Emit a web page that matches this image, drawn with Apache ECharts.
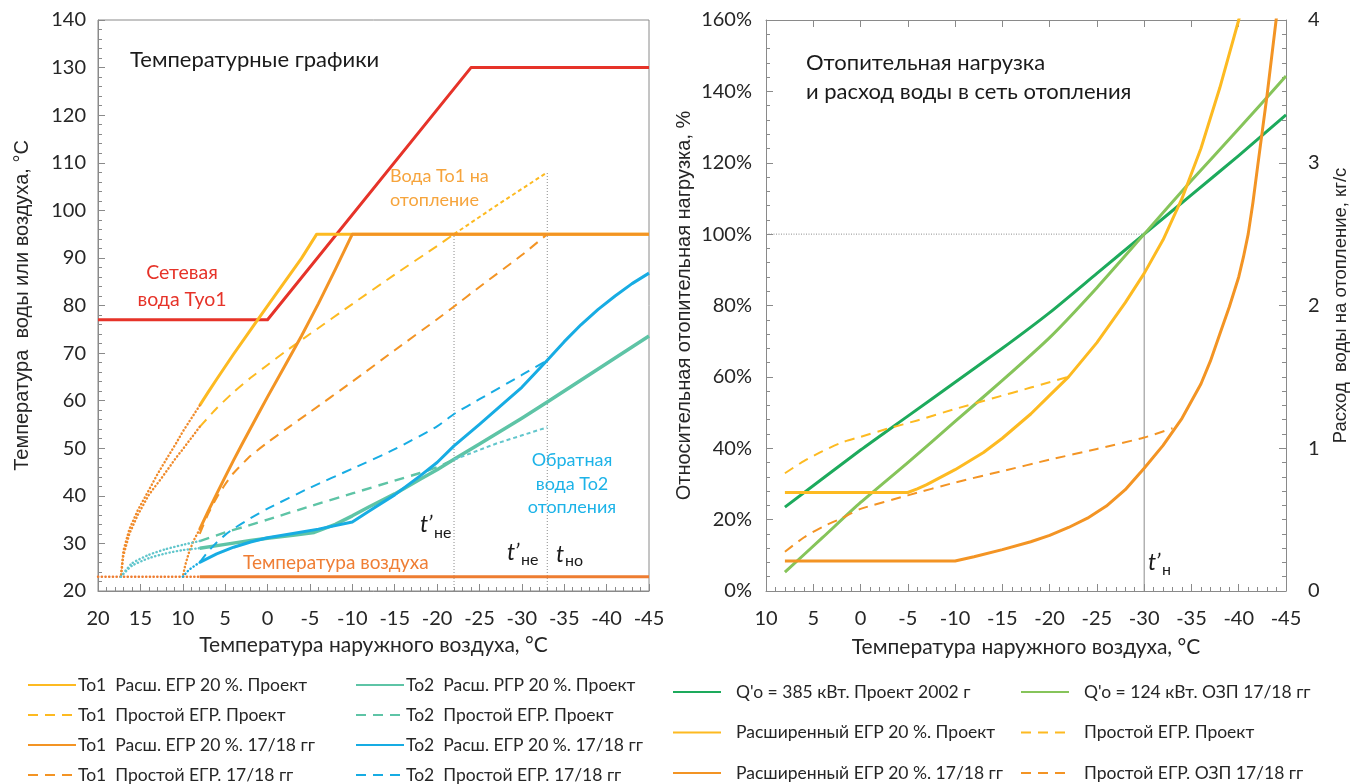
<!DOCTYPE html>
<html>
<head>
<meta charset="utf-8">
<script src="https://cdn.jsdelivr.net/npm/echarts/dist/echarts.min.js"></script>
<style>html,body{margin:0;padding:0;background:#fff}#chart{width:1351px;height:784px}</style>
</head>
<body>
<div id="chart"></div>
<script>
// ---------- Left panel: water / air temperature vs outdoor temperature (°C) ----------
const supplyNetwork   = [[20,77],[0,77],[-24,130],[-45,130]];
const to1ExtProject   = [[8,59],[7,61.8],[6,64.5],[4,69.8],[2,74.9],[0,79.9],[-2,84.9],[-4,89.9],[-5.8,95],[-45,95]];
const to1SimpleProject = [[8,54.5],[6,58.4],[4,61.8],[2,64.8],[0,67.5],[-2,70.2],[-5,74],[-10,80.3],[-15,86.5],[-20,92.5],[-22,95]];
const to1SimpleProjectTail = [[-22,95],[-27,101],[-33,108]];
const to1Ext1718      = [[8,33],[7,36.8],[6,40.4],[5,44],[4,47.5],[3,50.9],[2,54.2],[1,57.5],[0,60.8],[-2,67.2],[-4,73.6],[-6,80.4],[-8,87.6],[-10,95],[-45,95]];
const to1Simple1718   = [[8,32],[7,36.2],[6,39.6],[5,42.4],[4,44.8],[2,48.4],[0,51.2],[-2,53.8],[-5,57.6],[-10,64],[-15,70.6],[-20,77.1],[-22,79.8],[-25,83.9],[-30,90.6],[-33,95]];
const to1WarmA        = [[8,59],[10,53.5],[10.8,51],[12,47.5],[13,44.5],[14,41.2],[15.3,37],[16.3,33],[17,28.5],[17.3,23]];
const to1WarmB        = [[8,54.5],[10,49.8],[10.8,48],[12.4,44],[14,40.2],[15.3,36],[16.3,32],[17,27.5],[17.3,23]];
const to1Warm1718     = [[8,33],[8.6,31],[9.2,28.5],[9.7,25.5],[10,23]];
const airWarm         = [[20,23],[8,23]];
const airTemp         = [[8,23],[-45,23]];
const to2ExtProject   = [[8,29],[5,29.8],[2,30.6],[0,31.1],[-3,31.7],[-5.5,32.3],[-8,34],[-10,35.8],[-12,37.7],[-15,40.4],[-18,43.5],[-20,45.5],[-22,47.7],[-25,50.9],[-30,56.3],[-33,59.7],[-36,63.2],[-40,67.8],[-45,73.6]];
const to2SimpleProject = [[8,30.5],[5,32.3],[2,33.9],[0,35],[-5,37.8],[-10,40.5],[-15,43.2],[-18,44.8],[-20,46],[-22,47.6]];
const to2SimpleProjectTail = [[-22,47.6],[-27,51],[-33,54.4]];
const to2WarmA        = [[17.3,23],[16,25.3],[14,26.9],[12,27.9],[10,28.6],[8,29]];
const to2WarmB        = [[17.3,23],[16,25.8],[14,27.6],[12,28.8],[10,29.7],[8,30.5]];
const to2Ext1718      = [[8,26],[6,27.8],[4,29.2],[2,30.3],[0,31.2],[-3,32.1],[-6,33],[-10,34.5],[-12,36.8],[-15,40.2],[-18,44.2],[-20,47],[-22,50.5],[-25,55],[-28,59.7],[-30,62.8],[-33,68.5],[-35,72.4],[-37,76],[-39,79.2],[-41,82],[-43,84.6],[-45,86.8]];
const to2Simple1718   = [[8,26],[7,28.3],[6,30.2],[5,31.8],[4,33.1],[2,35.3],[0,37.3],[-5,41.7],[-10,45.7],[-15,49.8],[-20,54.6],[-22,57.2],[-25,60.3],[-30,65.4],[-33,68.5]];
const to2Warm1718     = [[10,23],[9.3,24.4],[8.6,25.3],[8,26]];
// vertical guides: [outdoor temperature, from, to]
const guidesLeft      = [[-22,20,95],[-33,20,108]];

// ---------- Right panel: heating load (%) and water flow (kg/s) ----------
const loadProject2002 = [[8,23.5],[0,39.5],[-5,49],[-10,58.5],[-15,68],[-20,78],[-25,89],[-30,100],[-35,111],[-40,122],[-45,133.4]];
const loadOzp1718     = [[8,5.3],[4,15],[0,24.8],[-5,36],[-10,47.5],[-15,59],[-20,71],[-25,85],[-30,100],[-35,115],[-40,129.5],[-45,144.3]];
const flowExtProject  = [[8,0.69],[-5,0.69],[-6,0.715],[-7,0.745],[-10,0.85],[-13,0.97],[-15,1.07],[-18,1.24],[-20,1.37],[-22,1.5],[-25,1.74],[-28,2.02],[-30,2.225],[-32,2.46],[-34,2.75],[-36,3.1],[-38,3.525],[-40,4.0],[-40.5,4.13]];
const flowExt1718     = [[8,0.21],[-10,0.21],[-12,0.24],[-15,0.29],[-18,0.345],[-20,0.39],[-22,0.445],[-24,0.51],[-26,0.595],[-28,0.71],[-30,0.86],[-32,1.02],[-34,1.21],[-36,1.45],[-37,1.61],[-38,1.8],[-39,1.99],[-40,2.2],[-40.5,2.34],[-41,2.5],[-41.5,2.72],[-42,2.975],[-42.5,3.225],[-43,3.475],[-43.5,3.75],[-44,4.025],[-44.3,4.2]];
const flowSimpleProject = [[8,0.825],[6,0.91],[4,0.98],[2,1.04],[0,1.08],[-3,1.14],[-6,1.195],[-10,1.275],[-14,1.35],[-18,1.425],[-22.5,1.51]];
const flowSimple1718  = [[8,0.275],[6,0.375],[4,0.45],[2,0.51],[0,0.575],[-5,0.67],[-10,0.76],[-15,0.84],[-20,0.92],[-25,0.995],[-30,1.075],[-33,1.14]];
const designPoint     = [-30, 100];

const leftTicks  = {xMin:-45, xMax:20, yMin:20, yMax:140};
const rightTicks = {xMin:-45, xMax:10, pMin:0, pMax:160, fMin:0, fMax:4};

const FONT = "Lato, 'Liberation Sans', Arial, sans-serif";
const WIDE = "'Liberation Sans', Arial, sans-serif";
const AX = '#8a8a8a', TXT = '#262626';

const C = {
  red:'#E63329', yellow:'#FDBA21', orange:'#F39424', dotOrange:'#F08A2A', air:'#EE7D31',
  teal:'#5EC4A6', tealLight:'#62C6CC', blue:'#17ACE3', dark:'#1DAA5C', light:'#86C45A', guide:'#8c8c8c'
};
const DASH = [10, 7], FINE = [4, 3], DOT = [0.3, 3.4];

function line(name, data, color, width, type, xi, yi, z, cap, smooth) {
  return {
    name, type:'line', data, xAxisIndex:xi, yAxisIndex:yi, symbol:'none', showSymbol:false,
    smooth: smooth || false,
    lineStyle:{color, width, type: type || 'solid', cap: cap || 'butt', join:'round'},
    itemStyle:{color}, emphasis:{disabled:true}, silent:true, z: z || 2, clip:true
  };
}
function guide(xv, y0, y1, xi, yi, type) {
  return line('', [[xv,y0],[xv,y1]], C.guide, 1, type, xi, yi, 1);
}

const N = {
  a1:'То1  Расш. ЕГР 20 %. Проект', a2:'То1  Простой ЕГР. Проект', a3:'То1  Расш. ЕГР 20 %. 17/18 гг', a4:'То1  Простой ЕГР. 17/18 гг',
  b1:'То2  Расш. РГР 20 %. Проект', b2:'То2  Простой ЕГР. Проект', b3:'То2  Расш. ЕГР 20 %. 17/18 гг', b4:'То2  Простой ЕГР. 17/18 гг',
  c1:"Q'o = 385 кВт. Проект 2002 г", c2:'Расширенный ЕГР 20 %. Проект', c3:'Расширенный ЕГР 20 %. 17/18 гг',
  d1:"Q'o = 124 кВт. ОЗП 17/18 гг", d2:'Простой ЕГР. Проект', d3:'Простой ЕГР. ОЗП 17/18 гг'
};

const SM = 0.2;
const series = [
  ...guidesLeft.map(g => guide(g[0], g[1], g[2], 0, 0, [1, 2])),
  line('Сетевая вода', supplyNetwork, C.red, 3, null, 0, 0, 3),
  line(N.a1, to1ExtProject, C.yellow, 3, null, 0, 0, 3),
  line(N.a2, to1SimpleProject, C.yellow, 2, DASH, 0, 0, 3, null, SM),
  line('', to1SimpleProjectTail, C.yellow, 2, FINE, 0, 0, 3),
  line(N.a3, to1Ext1718, C.orange, 3, null, 0, 0, 4),
  line(N.a4, to1Simple1718, C.orange, 2, DASH, 0, 0, 3, null, SM),
  line('', to1WarmA, C.dotOrange, 2.4, DOT, 0, 0, 3, 'round'),
  line('', to1WarmB, C.dotOrange, 2.4, DOT, 0, 0, 3, 'round'),
  line('', to1Warm1718, C.dotOrange, 2.4, DOT, 0, 0, 3, 'round'),
  line('', airWarm, C.air, 2.4, DOT, 0, 0, 3, 'round'),
  line('Температура воздуха', airTemp, C.air, 3, null, 0, 0, 3),
  line(N.b1, to2ExtProject, C.teal, 3.5, null, 0, 0, 3),
  line(N.b2, to2SimpleProject, C.teal, 2.4, DASH, 0, 0, 3, null, SM),
  line('', to2SimpleProjectTail, C.tealLight, 2, FINE, 0, 0, 3),
  line('', to2WarmA, C.tealLight, 2.4, DOT, 0, 0, 3, 'round', SM),
  line('', to2WarmB, C.tealLight, 2.4, DOT, 0, 0, 3, 'round', SM),
  line(N.b3, to2Ext1718, C.blue, 3, null, 0, 0, 4),
  line(N.b4, to2Simple1718, C.blue, 2, DASH, 0, 0, 3, null, SM),
  line('', to2Warm1718, C.blue, 2.4, DOT, 0, 0, 3, 'round'),

  line('', [[rightTicks.xMax, designPoint[1]],[designPoint[0], designPoint[1]]], C.guide, 1, [1, 1.5], 1, 1, 1),
  line('', [[designPoint[0], rightTicks.pMin],[designPoint[0], designPoint[1]]], C.guide, 1, null, 1, 1, 1),
  line(N.c1, loadProject2002, C.dark, 3, null, 1, 1, 3, null, SM),
  line(N.d1, loadOzp1718, C.light, 3, null, 1, 1, 3, null, SM),
  line(N.c2, flowExtProject, C.yellow, 3, null, 1, 2, 4),
  line(N.d2, flowSimpleProject, C.yellow, 2, DASH, 1, 2, 3, null, SM),
  line(N.c3, flowExt1718, C.orange, 3, null, 1, 2, 4),
  line(N.d3, flowSimple1718, C.orange, 2, DASH, 1, 2, 3, null, SM)
];

const tickLabel = {color:TXT, fontSize:20, fontFamily:FONT};
const axisLine = {show:true, onZero:false, lineStyle:{color:AX, width:1}};

function legend(names, left, top, gap, textGap) {
  return {
    data: names, orient:'vertical', left, top, height:140, itemGap:gap, itemWidth:48, itemHeight:14, padding:0,
    itemStyle:{opacity:0, borderWidth:0},
    textStyle:{color:TXT, fontSize:17.5, lineHeight:16, fontFamily:FONT, padding:[0,0,0,textGap]}, selectedMode:false
  };
}

function txt(x, y, text, color, size, align, extra) {
  return {
    type:'text', x, y, silent:true,
    style:Object.assign({text, fill:color, fontSize:size, fontFamily:FONT,
      textAlign:align || 'left', align:align || 'left', textVerticalAlign:'middle', verticalAlign:'middle'}, extra || {})
  };
}

const option = {
  animation:false,
  backgroundColor:'#fff',
  grid:[
    {left:98, right:702, top:20, bottom:193, show:true, borderColor:AX, borderWidth:1, backgroundColor:'transparent', outerBoundsMode:'none'},
    {left:766, right:65, top:20, bottom:193, outerBoundsMode:'none'}
  ],
  xAxis:[
    {gridIndex:0, type:'value', min:leftTicks.xMin, max:leftTicks.xMax, interval:5, inverse:true, position:'bottom',
     axisLine, axisTick:{inside:true, length:7, lineStyle:{color:AX}}, minorTick:{show:true, splitNumber:5, length:4, lineStyle:{color:AX}},
     splitLine:{show:false}, axisLabel:Object.assign({margin:18}, tickLabel),
     name:'Температура наружного воздуха, °C', nameLocation:'middle', nameGap:44,
     nameTextStyle:{color:TXT, fontSize:21, fontFamily:FONT}},
    {gridIndex:1, type:'value', min:rightTicks.xMin, max:rightTicks.xMax, interval:5, inverse:true, position:'bottom',
     axisLine, axisTick:{inside:true, length:7, lineStyle:{color:AX}}, minorTick:{show:true, splitNumber:5, length:4, lineStyle:{color:AX}},
     splitLine:{show:false}, axisLabel:Object.assign({margin:18}, tickLabel),
     name:'Температура наружного воздуха, °C', nameLocation:'middle', nameGap:46,
     nameTextStyle:{color:TXT, fontSize:21, fontFamily:FONT}},
    {gridIndex:1, type:'value', min:rightTicks.xMin, max:rightTicks.xMax, interval:5, inverse:true, position:'top',
     axisLine, axisTick:{inside:true, length:7, lineStyle:{color:AX}}, splitLine:{show:false}, axisLabel:{show:false}}
  ],
  yAxis:[
    {gridIndex:0, type:'value', min:leftTicks.yMin, max:leftTicks.yMax, interval:10,
     axisLine, axisTick:{inside:true, length:7, lineStyle:{color:AX}}, minorTick:{show:true, splitNumber:5, length:4, lineStyle:{color:AX}},
     splitLine:{show:false}, axisLabel:Object.assign({margin:12}, tickLabel),
     name:'Температура  воды или воздуха, °C', nameLocation:'middle', nameRotate:90, nameGap:66,
     nameTextStyle:{color:TXT, fontSize:20, fontFamily:WIDE}},
    {gridIndex:1, type:'value', min:rightTicks.pMin, max:rightTicks.pMax, interval:20,
     axisLine, axisTick:{inside:true, length:7, lineStyle:{color:AX}}, minorTick:{show:true, splitNumber:5, length:4, lineStyle:{color:AX}},
     splitLine:{show:false}, axisLabel:Object.assign({margin:14, formatter:'{value}%'}, tickLabel),
     name:'Относительная отопительная нагрузка, %', nameLocation:'middle', nameRotate:90, nameGap:72,
     nameTextStyle:{color:TXT, fontSize:20, fontFamily:WIDE}},
    {gridIndex:1, type:'value', min:rightTicks.fMin, max:rightTicks.fMax, interval:1, position:'right',
     axisLine, axisTick:{inside:true, length:7, lineStyle:{color:AX}}, minorTick:{show:true, splitNumber:10, length:4, lineStyle:{color:AX}},
     splitLine:{show:false}, axisLabel:Object.assign({margin:22}, tickLabel),
     name:'Расход  воды на отопление, кг/с', nameLocation:'middle', nameRotate:90, nameGap:45,
     nameTextStyle:{color:TXT, fontSize:18.5, fontFamily:WIDE}}
  ],
  legend:[
    legend([N.a1,N.a2,N.a3,N.a4], 27, 676, 12, -3),
    legend([N.b1,N.b2,N.b3,N.b4], 355, 676, 12, -3),
    legend([N.c1,N.c2,N.c3], 672, 683, 22.5, 10),
    legend([N.d1,N.d2,N.d3], 1020, 683, 22.5, 10)
  ],
  graphic:[
    txt(130, 60, 'Температурные графики', '#1a1a1a', 22),
    txt(182, 286, 'Сетевая\nвода Туо1', C.red, 19.5, 'center', {lineHeight:27}),
    txt(390, 188, 'Вода То1 на\nотопление', '#F6A43C', 18, 'left', {lineHeight:24}),
    txt(572, 484, 'Обратная\nвода То2\nотопления', '#1DB3E8', 18, 'center', {lineHeight:23.5}),
    txt(243, 563, 'Температура воздуха', '#EF7E35', 19),
    txt(420, 525, 't’', '#1a1a1a', 23, 'left', {fontStyle:'italic'}),
    txt(434, 533, 'не', '#1a1a1a', 16),
    txt(507, 553, 't’', '#1a1a1a', 23, 'left', {fontStyle:'italic'}),
    txt(521, 560, 'не', '#1a1a1a', 16),
    txt(556, 555, 't', '#1a1a1a', 23, 'left', {fontStyle:'italic'}),
    txt(565, 561, 'но', '#1a1a1a', 16),
    txt(806, 63, 'Отопительная нагрузка', '#1a1a1a', 22),
    txt(806, 92, 'и расход воды в сеть отопления', '#1a1a1a', 22),
    txt(1148, 563, 't’', '#1a1a1a', 23, 'left', {fontStyle:'italic'}),
    txt(1162, 570, 'н', '#1a1a1a', 16)
  ],
  series
};

const chart = echarts.init(document.getElementById('chart'), null, {renderer:'canvas'});
chart.setOption(option);
</script>
</body>
</html>
